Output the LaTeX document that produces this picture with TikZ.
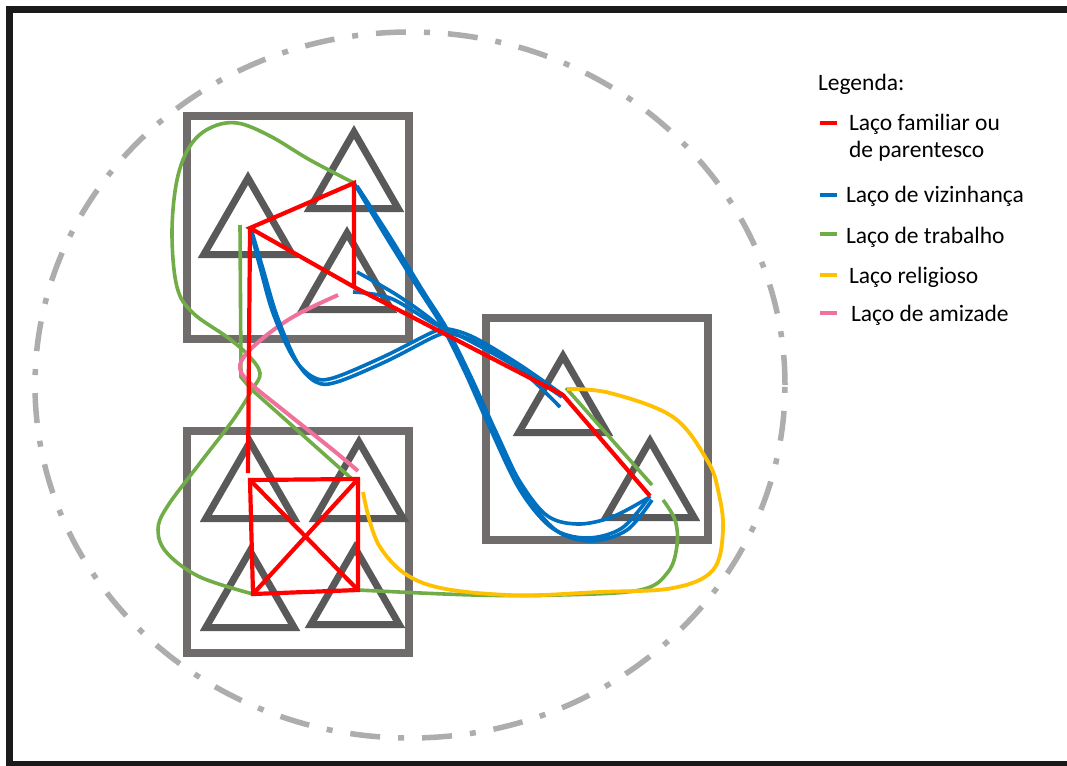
\documentclass[tikz,border=0pt]{standalone}
\usepackage{fontspec}
\setmainfont{Carlito}
\usetikzlibrary{shapes.geometric}

\definecolor{frameblack}{HTML}{1A1A1A}
\definecolor{ringgrey}{HTML}{ADADAD}
\definecolor{boxgrey}{HTML}{706C6C}
\definecolor{trigrey}{HTML}{595959}
\definecolor{famred}{HTML}{FF0000}
\definecolor{nbblue}{HTML}{0070C0}
\definecolor{workgreen}{HTML}{70AD47}
\definecolor{relyellow}{HTML}{FFC000}
\definecolor{friendpink}{HTML}{F0719B}

\tikzset{
  group/.style={draw=boxgrey, line width=8, minimum width=222, minimum height=222,
    inner sep=0, outer sep=0, line join=miter},
  house/.style={regular polygon, regular polygon sides=3, draw=trigrey, line width=7,
    minimum size=102, inner sep=0, outer sep=0, line join=miter},
  ring/.style={ringgrey, line width=5.5, dash pattern=on 30pt off 18pt on 6pt off 18pt},
  famtie/.style={famred, line width=4.2},
  nbtie/.style={nbblue, line width=3.6},
  worktie/.style={workgreen, line width=3.6},
  reltie/.style={relyellow, line width=3.8},
  friendtie/.style={friendpink, line width=4},
  keybar/.style={minimum width=17, minimum height=4, inner sep=0, outer sep=0, draw=none},
  legtext/.style={anchor=base west, inner sep=0, outer sep=0, text=black,
    font=\fontsize{23.5}{28}\selectfont},
  edge/.style={frameblack, line width=7},
}

\begin{document}
\begin{tikzpicture}[x=1pt, y=-1pt]
\useasboundingbox (0,0) rectangle (1067,765);
\fill[white] (-10,-10) rectangle (1090,790);

% outer frame: top, left and bottom edges only
\coordinate (fTL) at (6,9.5);
\coordinate (fTR) at (1090,9.5);
\coordinate (fLT) at (9.5,6);
\coordinate (fLB) at (9.5,765);
\coordinate (fBL) at (6,764.5);
\coordinate (fBR) at (1090,764.5);
\draw[edge] (fTL) -- (fTR);
\draw[edge] (fLT) -- (fLB);
\draw[edge] (fBL) -- (fBR);

% community boundary
\draw[ring] (410,385) ellipse [x radius=375pt, y radius=353pt];

% household groups
\node[group] (grpA) at (298,227.5) {};
\node[group] (grpB) at (298,542) {};
\node[group] (grpC) at (597,429) {};

% people
\node[house] (t1) at (248,229) {};
\node[house] (t2) at (354,183) {};
\node[house] (t3) at (347,284) {};
\node[house] (t4) at (250,493) {};
\node[house] (t5) at (359,493) {};
\node[house] (t6) at (250,602) {};
\node[house] (t7) at (355,599) {};
\node[house] (t8) at (563,407) {};
\node[house] (t9) at (650,492) {};

% tie end points
\coordinate (pA) at (250,228);
\coordinate (pB) at (354,183);
\coordinate (pC) at (354,287);
\coordinate (pCu) at (357,272);
\coordinate (pCd) at (353,292);
\coordinate (pF) at (250,480);
\coordinate (pF0) at (248,473);
\coordinate (pG) at (358,479);
\coordinate (pH) at (358,590);
\coordinate (pI) at (253,594);
\coordinate (pD) at (563,395);
\coordinate (pDd) at (560,407);
\coordinate (pE) at (650,496);
\coordinate (gA) at (240,225);
\coordinate (gG) at (352,479);
\coordinate (gD) at (566,388);
\coordinate (gE) at (652,485);
\coordinate (gE2) at (663,500);
\coordinate (yG) at (363,492);
\coordinate (yD) at (567,389);
\coordinate (kC) at (338,295);
\coordinate (kG) at (358,471);

% work ties
\draw[worktie] plot[smooth, tension=0.6] coordinates {(pB) (310,160) (270,136) (237,123) (210,128) (190,146) (177,180) (172,233) (177,287) (193,313) (227,337) (248,355) (260,373) (252,390) (233,420) (200,463) (167,507) (158,530) (167,553) (200,577) (pI)};
\draw[worktie] (gA) -- (241,377) -- (251,389) -- (gG);
\draw[worktie] plot[smooth, tension=0.6] coordinates {(pH) (473,595) (560,595) (640,590) (668,572) (677,545) (675,520) (gE2)};
\draw[worktie] (gD) -- (gE);

% religious tie
\draw[reltie] plot[smooth, tension=0.6] coordinates {(yG) (380,547) (423,583) (507,595) (600,592) (673,588) (713,570) (723,530) (718,490) (707,460) (673,417) (610,393) (yD)};

% friendship tie
\draw[friendtie] plot[smooth, tension=0.6] coordinates {(kC) (300,313) (272,331) (247,353) (240,368) (250,383) (283,410) (333,450) (kG)};

% neighbourhood ties
\draw[nbtie] plot[smooth, tension=0.55] coordinates {(pB) (385,235) (418,288) (442,326) (465,372) (490,428) (520,490) (552,528) (587,538) (622,528) (pE)};
\draw[nbtie] plot[smooth, tension=0.55] coordinates {(357,186) (390,237) (423,291) (447,329) (471,377) (496,432) (526,494) (557,531) (592,541) (627,530) (652,500)};
\draw[nbtie] plot[smooth, tension=0.55] coordinates {(pA) (260,267) (273,313) (293,357) (313,377) (333,378) (383,357) (433,332) (448,329) (475,338) (520,365) (pD)};
\draw[nbtie] plot[smooth, tension=0.55] coordinates {(252,232) (263,269) (277,316) (297,362) (316,382) (337,382) (387,361) (436,336) (452,334) (480,344) (520,369) (pDd)};
\draw[nbtie] plot[smooth, tension=0.55] coordinates {(pCu) (400,297) (440,327) (460,356) (483,405) (513,470) (545,514) (577,524) (612,517) (648,498)};
\draw[nbtie] plot[smooth, tension=0.55] coordinates {(pCd) (390,298) (433,323) (470,341) (520,369) (562,397)};

% family ties
\draw[famtie] (pA) -- (pB) -- (pC) -- cycle;
\draw[famtie] (pC) -- (pD) -- (pE);
\draw[famtie] (pA) -- (pF0);
\draw[famtie, line join=miter] (pF) -- (pG) -- (pH) -- (pI) -- cycle;
\draw[famtie] (pF) -- (pH);
\draw[famtie] (pG) -- (pI);

% legend
\node[legtext] (legtitle) at (818,91) {Legenda:};
\node[keybar, fill=famred] (kfam) at (828.5,123) {};
\node[legtext] (lfam) at (849,130) {Laço familiar ou};
\node[legtext] (lfamb) at (849,157) {de parentesco};
\node[keybar, fill=nbblue] (knb) at (828.5,195) {};
\node[legtext] (lnb) at (846,202) {Laço de vizinhança};
\node[keybar, fill=workgreen] (kwork) at (828.5,234) {};
\node[legtext] (lwork) at (846,243) {Laço de trabalho};
\node[keybar, fill=relyellow] (krel) at (828.5,275) {};
\node[legtext] (lrel) at (849,283) {Laço religioso};
\node[keybar, fill=friendpink] (kfriend) at (828.5,313) {};
\node[legtext] (lfriend) at (851,321) {Laço de amizade};
\end{tikzpicture}
\end{document}
